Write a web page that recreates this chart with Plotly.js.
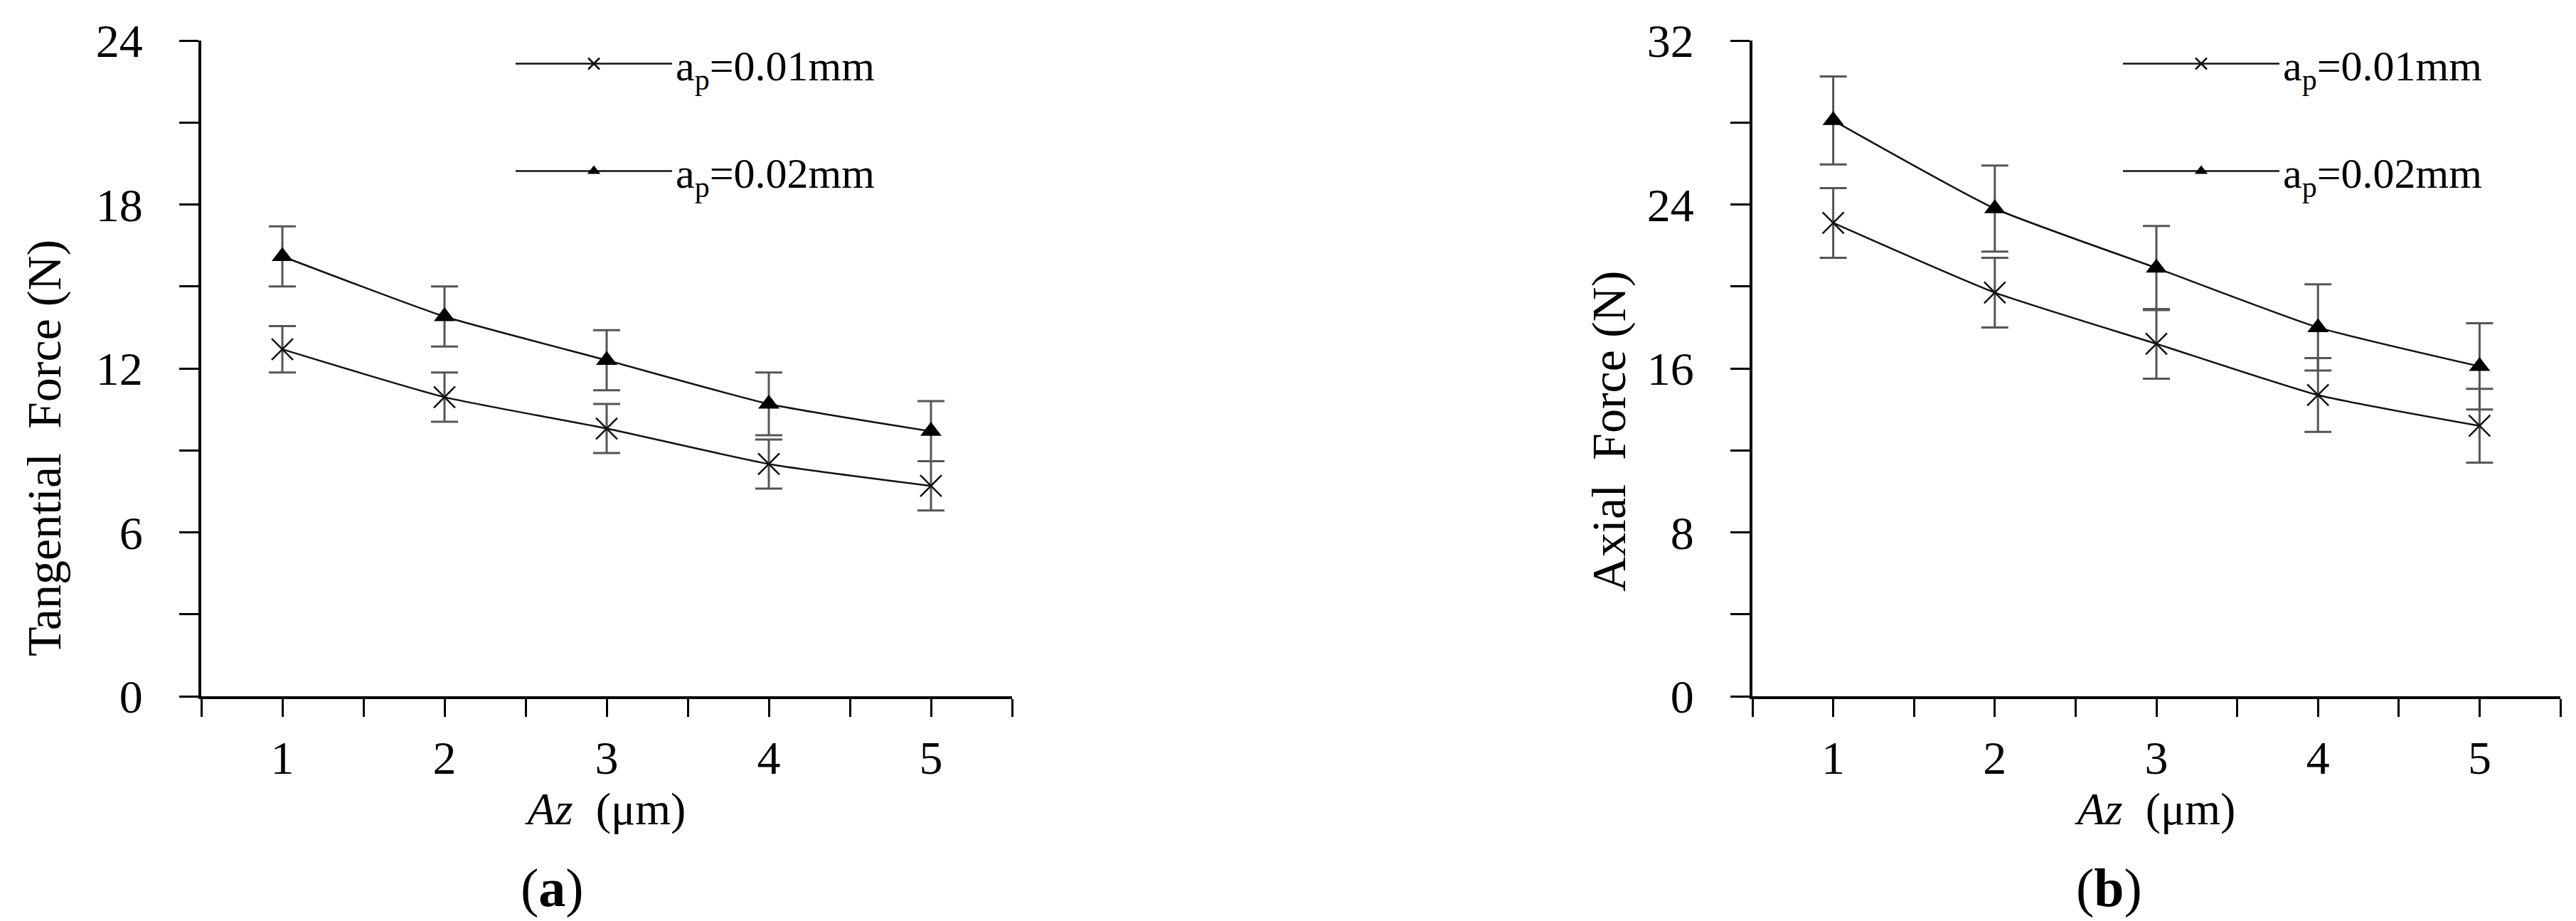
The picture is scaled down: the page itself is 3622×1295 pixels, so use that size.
<!DOCTYPE html>
<html>
<head>
<meta charset="utf-8">
<script src="https://cdn.plot.ly/plotly-3.0.1.min.js"></script>
<style>
  body { margin: 0; background: #fff; }
  #chart { width: 3622px; height: 1295px; }
</style>
</head>
<body>
<div id="chart"></div>
<script>
// Az values (um) on the x axis
var azValues = [1, 2, 3, 4, 5];
var azLabels = ['1', '2', '3', '4', '5'];

// (a) tangential force, N
var tangential001 = [12.7, 10.95, 9.8, 8.5, 7.7];
var tangential001Err = [0.85, 0.9, 0.9, 0.9, 0.9];
var tangential002 = [16.1, 13.9, 12.3, 10.7, 9.7];
var tangential002Err = [1.1, 1.1, 1.1, 1.15, 1.1];

// (b) axial force, N
var axial001 = [23.1, 19.7, 17.2, 14.7, 13.2];
var axial001Err = [1.7, 1.7, 1.7, 1.8, 1.8];
var axial002 = [28.1, 23.8, 20.9, 18.0, 16.1];
var axial002Err = [2.15, 2.1, 2.05, 2.1, 2.1];

var seriesNames = ['a<sub>p</sub>=0.01mm', 'a<sub>p</sub>=0.02mm'];

var serif = '"Liberation Serif", "Times New Roman", serif';
var W = 3622, H = 1295;

function makeTrace(y, err, idx, xa, ya, legend) {
  var cross = idx === 0;
  return {
    x: azValues,
    y: y,
    xaxis: xa,
    yaxis: ya,
    legend: legend,
    legendgroup: legend + idx,
    name: seriesNames[idx],
    type: 'scatter',
    mode: 'lines+markers',
    line: { color: '#111', width: 2.5, shape: 'spline', smoothing: 0.5 },
    marker: cross
      ? { symbol: 'x-thin-open', size: 30, color: '#111', line: { color: '#111', width: 2.5 } }
      : { symbol: 'triangle-up', size: 26, color: '#000' },
    error_y: { type: 'data', array: err, visible: true, color: '#555', thickness: 3, width: 19 }
  };
}

var data = [
  makeTrace(tangential001, tangential001Err, 0, 'x', 'y', 'legend'),
  makeTrace(tangential002, tangential002Err, 1, 'x', 'y', 'legend'),
  makeTrace(axial001, axial001Err, 0, 'x2', 'y2', 'legend2'),
  makeTrace(axial002, axial002Err, 1, 'x2', 'y2', 'legend2')
];

function xAxis(d0, d1, anchor) {
  return {
    domain: [d0 / W, d1 / W],
    anchor: anchor,
    range: [0.5, 5.5],
    tickvals: azValues,
    ticktext: azLabels,
    ticks: 'outside',
    ticklen: 22,
    tickwidth: 3,
    tickcolor: '#000',
    minor: { dtick: 0.5, tick0: 0.5, ticks: 'outside', ticklen: 25, tickwidth: 3, tickcolor: '#000' },
    ticklabelstandoff: 4,
    showline: true,
    linecolor: '#000',
    linewidth: 4,
    showgrid: false,
    zeroline: false,
    tickfont: { family: serif, size: 66, color: '#000' },
    title: { text: '<i>Az</i>  (μm)', font: { family: serif, size: 64, color: '#000' }, standoff: 0 }
  };
}

function yAxis(max, dtick, anchor) {
  return {
    domain: [(H - 979) / H, (H - 57) / H],
    anchor: anchor,
    range: [0, max],
    dtick: dtick,
    ticks: 'outside',
    ticklen: 27,
    tickwidth: 3,
    tickcolor: '#000',
    minor: { dtick: dtick / 2, ticks: 'outside', ticklen: 27, tickwidth: 3, tickcolor: '#000' },
    ticklabelstandoff: 38,
    showline: true,
    linecolor: '#000',
    linewidth: 4,
    showgrid: false,
    zeroline: false,
    tickfont: { family: serif, size: 66, color: '#000' }
  };
}

function legendBox(left) {
  return {
    x: left / W,
    xanchor: 'left',
    y: (H - 44) / H,
    yanchor: 'top',
    bgcolor: 'rgba(0,0,0,0)',
    itemwidth: 220,
    tracegroupgap: 70,
    font: { family: serif, size: 60, color: '#000' }
  };
}

var textFont = { family: serif, size: 68, color: '#000' };

var layout = {
  width: W,
  height: H,
  margin: { l: 0, r: 0, t: 0, b: 0 },
  paper_bgcolor: '#fff',
  plot_bgcolor: '#fff',
  showlegend: true,
  xaxis: xAxis(283, 1423, 'y'),
  yaxis: yAxis(24, 6, 'x'),
  xaxis2: xAxis(2464, 3600, 'y2'),
  yaxis2: yAxis(32, 8, 'x2'),
  legend: legendBox(720),
  legend2: legendBox(2980),
  annotations: [
    { text: 'Tangential  Force (N)', textangle: -90, xref: 'paper', yref: 'paper',
      x: 62 / W, y: (H - 630) / H, xanchor: 'center', yanchor: 'middle', showarrow: false, font: textFont },
    { text: 'Axial  Force (N)', textangle: -90, xref: 'paper', yref: 'paper',
      x: 2262 / W, y: (H - 607) / H, xanchor: 'center', yanchor: 'middle', showarrow: false, font: textFont },
    { text: '(<b>a</b>)', xref: 'paper', yref: 'paper', x: 776 / W, y: (H - 1248) / H,
      xanchor: 'center', yanchor: 'middle', showarrow: false, font: { family: serif, size: 76, color: '#000' } },
    { text: '(<b>b</b>)', xref: 'paper', yref: 'paper', x: 2965 / W, y: (H - 1248) / H,
      xanchor: 'center', yanchor: 'middle', showarrow: false, font: { family: serif, size: 76, color: '#000' } }
  ]
};

Plotly.newPlot('chart', data, layout, { staticPlot: true });
</script>
</body>
</html>
